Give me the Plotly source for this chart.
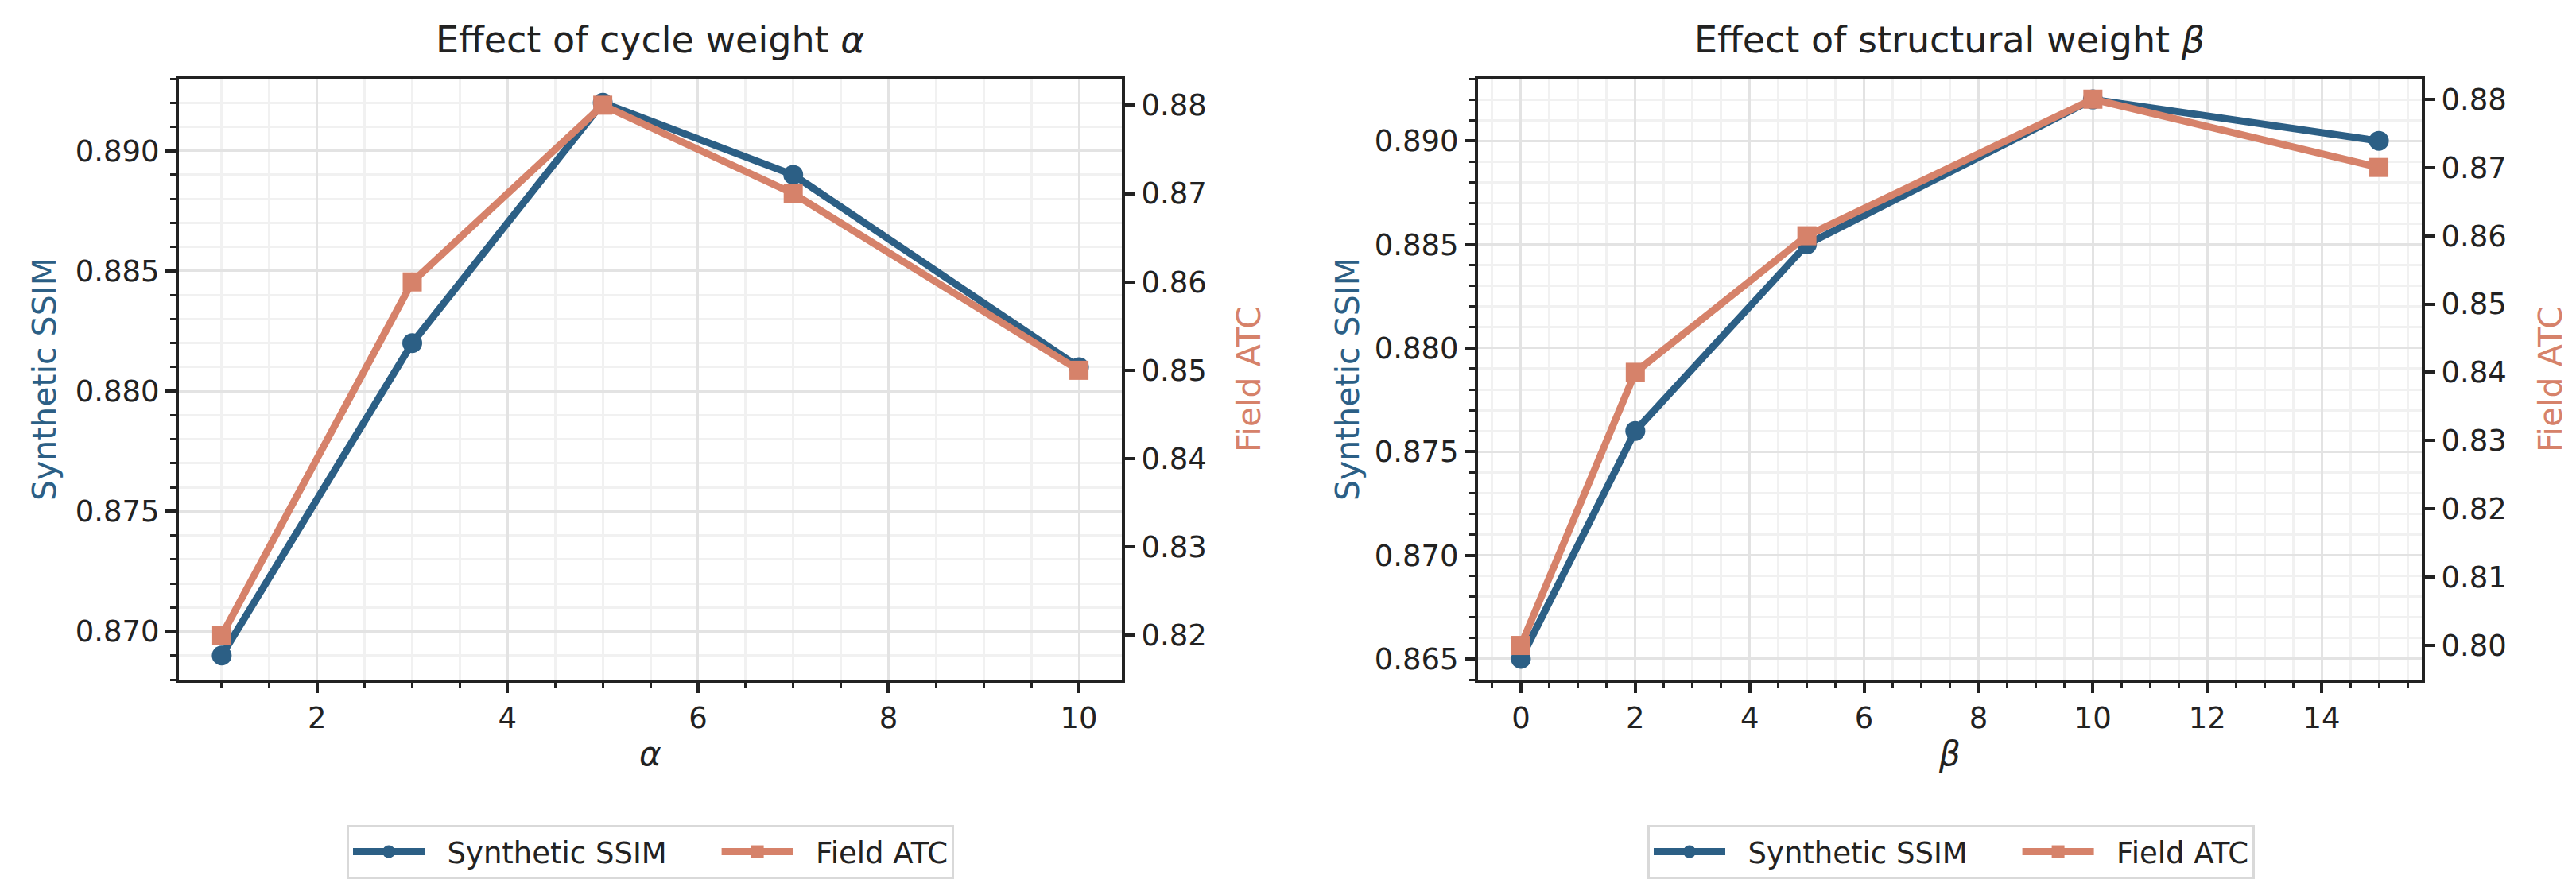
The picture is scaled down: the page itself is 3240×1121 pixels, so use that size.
import plotly.graph_objects as go

# sweep over cycle weight alpha
alpha_vals = [1, 3, 5, 7, 10]
ssim_alpha = [0.869, 0.882, 0.892, 0.889, 0.881]
atc_alpha = [0.82, 0.86, 0.88, 0.87, 0.85]

# sweep over structural weight beta
beta_vals = [0, 2, 5, 10, 15]
ssim_beta = [0.865, 0.876, 0.885, 0.892, 0.890]
atc_beta = [0.80, 0.84, 0.86, 0.88, 0.87]

series_names = ["Synthetic SSIM", "Field ATC"]

BLUE = "#2C5F85"
ORANGE = "#D6826A"
FONT = "DejaVu Sans"
W, H = 3240, 1121
NB = "\u00a0"

def px_x(p):
    return p / W

def px_y(p):
    return 1 - p / H

fig = go.Figure()

def add_pair(x, ssim, atc, xa, ya_left, ya_right, legend):
    # non-breaking spaces only pad the legend entries like matplotlib's spacing
    fig.add_trace(go.Scatter(x=x, y=ssim, name=NB * 2 + series_names[0] + NB * 5, mode="lines+markers",
                             line=dict(color=BLUE, width=9), marker=dict(symbol="circle", size=25, color=BLUE),
                             xaxis=xa, yaxis=ya_left, legend=legend))
    fig.add_trace(go.Scatter(x=x, y=atc, name=NB * 2 + series_names[1], mode="lines+markers",
                             line=dict(color=ORANGE, width=9), marker=dict(symbol="square", size=24, color=ORANGE),
                             xaxis=xa, yaxis=ya_right, legend=legend))

add_pair(alpha_vals, ssim_alpha, atc_alpha, "x", "y", "y2", "legend")
add_pair(beta_vals, ssim_beta, atc_beta, "x2", "y3", "y4", "legend2")

tickfont = dict(family=FONT, size=37, color="#222")
line_common = dict(showline=True, linecolor="#222", linewidth=4, ticks="outside", ticklen=13,
                   tickwidth=4, tickcolor="#222", tickfont=tickfont, zeroline=False, automargin=False)

def xaxis(domain, rng, anchor):
    return dict(domain=domain, range=rng, anchor=anchor, dtick=2, tick0=0, mirror=True,
                showgrid=True, gridcolor="#e3e3e3", gridwidth=3,
                minor=dict(dtick=0.5, ticks="outside", ticklen=7, tickwidth=3, tickcolor="#222",
                           showgrid=True, gridcolor="#f1f1f1", gridwidth=3),
                **line_common)

def yleft(rng, anchor):
    return dict(domain=[px_y(847), px_y(91)], range=rng, anchor=anchor, dtick=0.005, tick0=0.865,
                tickformat=".3f", showgrid=True, gridcolor="#e3e3e3", gridwidth=3,
                minor=dict(dtick=0.001, ticks="outside", ticklen=7, tickwidth=3, tickcolor="#222",
                           showgrid=True, gridcolor="#f1f1f1", gridwidth=3),
                **line_common)

def yright(rng, anchor, over):
    return dict(range=rng, anchor=anchor, overlaying=over, side="right", dtick=0.01, tick0=0.8,
                tickformat=".2f", showgrid=False, **line_common)

dom_left = [px_x(217), px_x(1403)]
dom_right = [px_x(1851), px_x(3038)]

legend_style = dict(orientation="h", xanchor="center", y=px_y(1030), yanchor="top",
                    bgcolor="white", bordercolor="#d9d9d9", borderwidth=3,
                    font=dict(family=FONT, size=37, color="#222"), itemwidth=90)

fig.update_layout(
    width=W, height=H,
    margin=dict(l=0, r=0, t=0, b=0),
    plot_bgcolor="white", paper_bgcolor="white",
    xaxis=xaxis(dom_left, [0.55, 10.45], "y"),
    yaxis=yleft([0.868, 0.893], "x"),
    yaxis2=yright([0.815, 0.883], "x", "y"),
    xaxis2=xaxis(dom_right, [-0.75, 15.75], "y3"),
    yaxis3=yleft([0.864, 0.893], "x2"),
    yaxis4=yright([0.795, 0.883], "x2", "y3"),
    legend=dict(x=px_x(810), **legend_style),
    legend2=dict(x=px_x(2446), **legend_style),
)

mid_y = px_y(469)
notes = [
    dict(text="Effect of cycle weight <i>α</i>", x=px_x(810), y=px_y(42), size=46, color="#222", angle=0),
    dict(text="Effect of structural weight <i>β</i>", x=px_x(2444), y=px_y(42), size=46, color="#222", angle=0),
    dict(text="<i>α</i>", x=px_x(810), y=px_y(940), size=42, color="#222", angle=0),
    dict(text="<i>β</i>", x=px_x(2444), y=px_y(940), size=42, color="#222", angle=0),
    dict(text="Synthetic SSIM", x=px_x(48), y=mid_y, size=41, color=BLUE, angle=-90),
    dict(text="Field ATC", x=px_x(1563), y=mid_y, size=41, color=ORANGE, angle=-90),
    dict(text="Synthetic SSIM", x=px_x(1687), y=mid_y, size=41, color=BLUE, angle=-90),
    dict(text="Field ATC", x=px_x(3200), y=mid_y, size=41, color=ORANGE, angle=-90),
]
for n in notes:
    fig.add_annotation(text=n["text"], x=n["x"], y=n["y"], xref="paper", yref="paper",
                       xanchor="center", yanchor="middle", showarrow=False, textangle=n["angle"],
                       font=dict(family=FONT, size=n["size"], color=n["color"]))

fig.write_html("out.html")
